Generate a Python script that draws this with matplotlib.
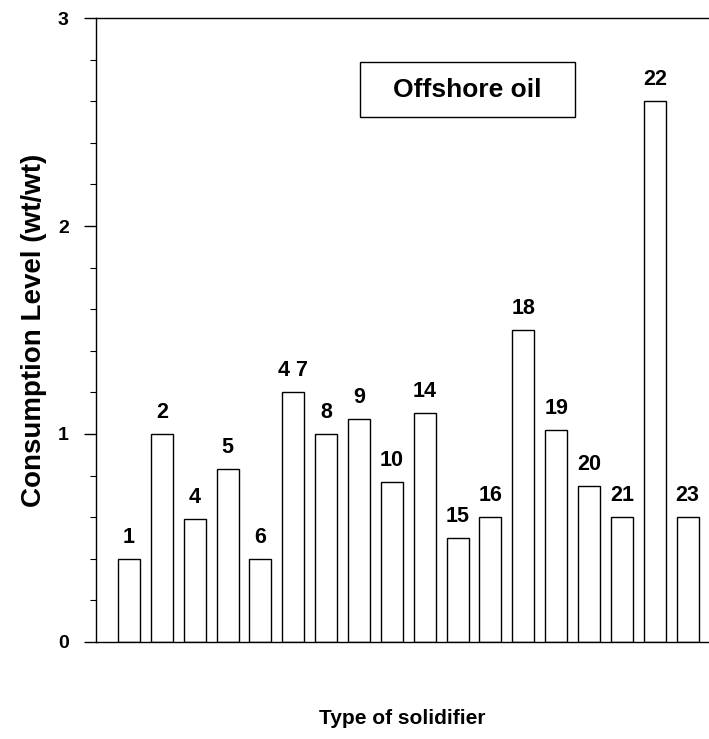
import matplotlib
matplotlib.use("Agg")
import matplotlib.pyplot as plt
from matplotlib.patches import Rectangle
from matplotlib.ticker import MultipleLocator
import numpy as np

plt.rcParams['font.family'] = ['Liberation Sans', 'DejaVu Sans']
plt.rcParams['font.weight'] = 'bold'

# solidifier labels and consumption level (wt/wt), offshore oil
solidifiers = ["1", "2", "4", "5", "6", "4 7", "8", "9", "10", "14",
               "15", "16", "18", "19", "20", "21", "22", "23"]
consumption = [0.40, 1.00, 0.59, 0.83, 0.40, 1.20, 1.00, 1.07, 0.77, 1.10,
               0.50, 0.60, 1.50, 1.02, 0.75, 0.60, 2.60, 0.60]

fig = plt.figure(figsize=(7.09, 7.39), dpi=100)
ax = fig.add_axes([0.1355, 0.1313, 0.8645, 0.8443])

x = np.arange(1, len(solidifiers) + 1)
bars = ax.bar(x, consumption, width=0.67, color='white',
              edgecolor='black', linewidth=1.0)

for xi, val, lab in zip(x, consumption, solidifiers):
    ax.annotate(lab, (xi, val), xytext=(0, 8), textcoords='offset points',
                ha='center', va='bottom', fontsize=15.5, fontweight='bold')

ax.set_xlim(0, 18.65)
ax.set_ylim(0, 3)
ax.set_xticks([])
ax.yaxis.set_major_locator(MultipleLocator(1))
ax.yaxis.set_minor_locator(MultipleLocator(0.2))
ax.tick_params(axis='y', which='major', direction='out', length=8.6,
               width=1.0, labelsize=14, pad=11)
ax.tick_params(axis='y', which='minor', direction='out', length=4.3, width=0.8)
for t in ax.get_yticklabels():
    t.set_fontweight('bold')

ax.spines['right'].set_visible(False)
for s in ['left', 'top', 'bottom']:
    ax.spines[s].set_linewidth(1.0)

ax.set_ylabel("Consumption Level (wt/wt)", fontsize=20, fontweight='bold',
              labelpad=8)
ax.set_xlabel("Type of solidifier", fontsize=15, fontweight='bold',
              labelpad=48)

# legend-like box with the oil type
ax.add_patch(Rectangle((8.03, 2.524), 6.54, 0.264, facecolor='white',
                       edgecolor='black', linewidth=1.0, zorder=3))
ax.text(11.3, 2.656, "Offshore oil", ha='center', va='center', fontsize=19,
        fontweight='bold', zorder=4)

fig.savefig("out.png", dpi=100)
